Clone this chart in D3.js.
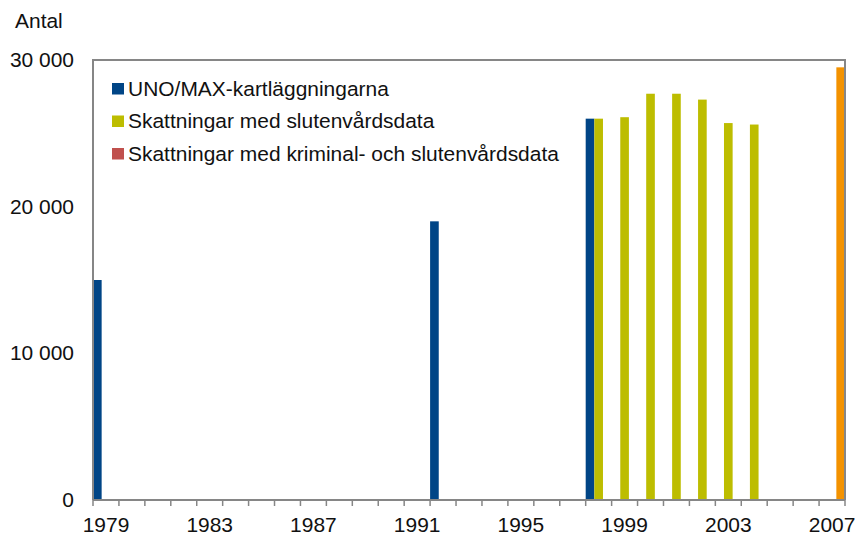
<!DOCTYPE html>
<html>
<head>
<meta charset="utf-8">
<script src="https://cdn.jsdelivr.net/npm/d3@7"></script>
<style>
  html, body { margin: 0; padding: 0; background: #fff; }
  svg { display: block; font-family: "Liberation Sans", Arial, sans-serif; }
</style>
</head>
<body>
<div id="chart"></div>
<script>
// years on the category axis
const years = d3.range(1979, 2008)
const tickYears = [1979, 1983, 1987, 1991, 1995, 1999, 2003, 2007]
const yTicks = [0, 10000, 20000, 30000]

const seriesNames = [
  'UNO/MAX-kartläggningarna',
  'Skattningar med slutenvårdsdata',
  'Skattningar med kriminal- och slutenvårdsdata'
]
// bar colours; the legend swatch of the last series differs from its bar
const barColors = ['#004586', '#bdbd00', '#f39200']
const legendColors = ['#004586', '#bdbd00', '#c0504d']

const unoYears = [1979, 1992, 1998]
const unoValues = [15000, 19000, 26000]
const slutenYears = [1998, 1999, 2000, 2001, 2002, 2003, 2004]
const slutenValues = [26000, 26100, 27700, 27700, 27300, 25700, 25600]
const kriminalYears = [2007]
const kriminalValues = [29500]

const W = 857, H = 535
const m = { left: 93, right: 12, top: 60, bottom: 35 }
const SX = 1.075 // the original text is a bit wider than Liberation Sans
const FS = '19.5px'
const textColor = '#111'

const svg = d3.select('#chart').append('svg')
  .attr('width', W).attr('height', H)

const x = d3.scaleBand().domain(years).range([m.left, W - m.right]).paddingInner(0).paddingOuter(0)
const xs = d3.scaleBand().domain([0, 1, 2]).range([0, x.bandwidth()]).padding(0)
const y = d3.scaleLinear().domain([0, 30000]).range([H - m.bottom, m.top])

const fmt = v => v === 0 ? '0' : d3.format(',')(v).replace(/,/g, ' ')

function place (px, py) { return `translate(${px},${py}) scale(${SX},1)` }

// bars
const groups = [
  unoYears.map((yr, i) => ({ s: 0, yr, v: unoValues[i] })),
  slutenYears.map((yr, i) => ({ s: 1, yr, v: slutenValues[i] })),
  kriminalYears.map((yr, i) => ({ s: 2, yr, v: kriminalValues[i] }))
].flat()

svg.append('g').selectAll('rect')
  .data(groups).join('rect')
  .attr('x', d => x(d.yr) + xs(d.s))
  .attr('width', xs.bandwidth())
  .attr('y', d => y(d.v))
  .attr('height', d => y(0) - y(d.v))
  .attr('fill', d => barColors[d.s])

// frame (top and right) and y axis line
const axisColor = '#868686'
svg.append('path')
  .attr('d', `M${m.left},${H - m.bottom}V${m.top}H${W - m.right}V${H - m.bottom}`)
  .attr('fill', 'none').attr('stroke', axisColor).attr('stroke-width', 2)

// y labels
svg.append('g').selectAll('text')
  .data(yTicks).join('text')
  .attr('transform', d => place(74, y(d) + 7))
  .attr('text-anchor', 'end')
  .attr('font-size', FS).attr('fill', textColor)
  .text(fmt)

// x axis: ticks between categories, labels every fourth year
const xAxisG = svg.append('g').attr('transform', `translate(0,${H - m.bottom})`)
xAxisG.append('line')
  .attr('x1', m.left).attr('x2', W - m.right)
  .attr('stroke', axisColor).attr('stroke-width', 2)
xAxisG.selectAll('line.tick')
  .data(years.concat([2008])).join('line')
  .attr('class', 'tick')
  .attr('x1', d => d === 2008 ? W - m.right : x(d))
  .attr('x2', d => d === 2008 ? W - m.right : x(d))
  .attr('y1', 0).attr('y2', 6)
  .attr('stroke', axisColor).attr('stroke-width', 1.5)
xAxisG.selectAll('text')
  .data(tickYears).join('text')
  .attr('transform', d => place(x(d) + x.bandwidth() / 2, 32))
  .attr('text-anchor', 'middle')
  .attr('font-size', FS).attr('fill', textColor)
  .text(d => d)

// y title
svg.append('text')
  .attr('transform', place(15, 28))
  .attr('font-size', FS).attr('fill', textColor)
  .text('Antal')

// legend
const legend = svg.append('g').attr('transform', 'translate(112,83)')
const li = legend.selectAll('g').data(seriesNames).join('g')
  .attr('transform', (d, i) => `translate(0,${i * 32.5})`)
li.append('rect').attr('width', 12).attr('height', 11.5)
  .attr('fill', (d, i) => legendColors[i])
li.append('text').attr('transform', place(16, 12.5))
  .attr('font-size', FS).attr('fill', textColor)
  .text(d => d)
</script>
</body>
</html>
